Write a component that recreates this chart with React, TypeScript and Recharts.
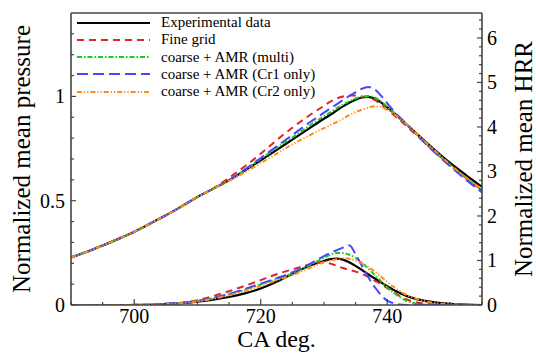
import React from 'react';
import { LineChart, Line, XAxis, YAxis, Legend, Label, ReferenceLine } from 'recharts';

const CA = [690, 692.5, 695, 697.5, 700, 702.5, 705, 707.5, 710, 712.5, 715, 717.5, 720, 722.5, 725, 727.5, 730, 731, 732, 733, 734, 735, 736, 737, 738, 739, 740, 741, 742, 743, 744, 745, 747.5, 750, 752.5, 755];

const pExp = [0.228, 0.255, 0.285, 0.317, 0.351, 0.39, 0.43, 0.473, 0.518, 0.558, 0.598, 0.645, 0.694, 0.743, 0.793, 0.843, 0.893, 0.912, 0.932, 0.952, 0.97, 0.984, 0.995, 0.998, 0.99, 0.972, 0.948, 0.922, 0.895, 0.868, 0.84, 0.812, 0.744, 0.68, 0.622, 0.567];
const pFine = [0.228, 0.255, 0.285, 0.317, 0.351, 0.39, 0.43, 0.473, 0.518, 0.558, 0.61, 0.665, 0.725, 0.79, 0.85, 0.905, 0.955, 0.975, 0.99, 1.0, 1.005, 1.005, 1.0, 0.995, 0.983, 0.962, 0.937, 0.912, 0.886, 0.86, 0.832, 0.805, 0.735, 0.668, 0.607, 0.55];
const pMulti = [0.228, 0.255, 0.285, 0.317, 0.351, 0.39, 0.43, 0.473, 0.518, 0.558, 0.598, 0.647, 0.7, 0.752, 0.803, 0.855, 0.905, 0.924, 0.943, 0.96, 0.976, 0.99, 0.999, 1.002, 0.995, 0.976, 0.951, 0.924, 0.896, 0.867, 0.838, 0.809, 0.738, 0.67, 0.608, 0.55];
const pCr1 = [0.228, 0.255, 0.285, 0.317, 0.351, 0.39, 0.43, 0.473, 0.518, 0.558, 0.598, 0.65, 0.705, 0.76, 0.815, 0.87, 0.922, 0.942, 0.962, 0.982, 1.002, 1.02, 1.037, 1.045, 1.035, 1.005, 0.968, 0.932, 0.9, 0.868, 0.836, 0.805, 0.732, 0.664, 0.6, 0.54];
const pCr2 = [0.228, 0.255, 0.285, 0.317, 0.351, 0.39, 0.43, 0.473, 0.518, 0.558, 0.595, 0.636, 0.68, 0.725, 0.77, 0.81, 0.848, 0.862, 0.877, 0.893, 0.91, 0.925, 0.936, 0.946, 0.953, 0.95, 0.937, 0.917, 0.894, 0.868, 0.84, 0.812, 0.741, 0.673, 0.611, 0.553];

const hExp = [0, 0, 0, 0, 0, 0.005, 0.02, 0.04, 0.075, 0.12, 0.18, 0.26, 0.37, 0.52, 0.7, 0.87, 0.99, 1.03, 1.04, 1.02, 0.96, 0.88, 0.79, 0.69, 0.6, 0.51, 0.42, 0.34, 0.27, 0.21, 0.16, 0.12, 0.06, 0.025, 0.008, 0];
const hFine = [0, 0, 0, 0, 0.005, 0.012, 0.025, 0.05, 0.11, 0.2, 0.31, 0.43, 0.56, 0.69, 0.8, 0.9, 0.96, 0.93, 0.88, 0.83, 0.79, 0.75, 0.7, 0.63, 0.55, 0.47, 0.38, 0.29, 0.2, 0.13, 0.08, 0.05, 0.01, 0, 0, 0];
const hMulti = [0, 0, 0, 0, 0.003, 0.01, 0.025, 0.05, 0.09, 0.15, 0.24, 0.34, 0.46, 0.58, 0.71, 0.88, 1.06, 1.13, 1.17, 1.17, 1.13, 1.06, 0.95, 0.82, 0.68, 0.54, 0.4, 0.28, 0.18, 0.1, 0.05, 0.02, 0, 0, 0, 0];
const hCr1 = [0, 0, 0, 0, 0.003, 0.01, 0.025, 0.05, 0.09, 0.16, 0.25, 0.36, 0.48, 0.6, 0.73, 0.9, 1.1, 1.17, 1.23, 1.29, 1.34, 1.14, 0.88, 0.63, 0.41, 0.23, 0.1, 0.04, 0.01, 0, 0, 0, 0, 0, 0, 0];
const hCr2 = [0, 0, 0, 0, 0.002, 0.008, 0.02, 0.04, 0.08, 0.14, 0.22, 0.32, 0.43, 0.55, 0.67, 0.82, 0.96, 1.0, 1.03, 1.05, 1.04, 1.0, 0.94, 0.86, 0.76, 0.64, 0.52, 0.41, 0.31, 0.23, 0.17, 0.12, 0.05, 0.02, 0.005, 0];

const SERIES_NAMES = ['Experimental data', 'Fine grid', 'coarse + AMR (multi)', 'coarse + AMR (Cr1 only)', 'coarse + AMR (Cr2 only)'];

const X_TICKS = [690, 695, 700, 705, 710, 715, 720, 725, 730, 735, 740, 745, 750, 755];
const X_MAJOR = [700, 720, 740];
const P_TICKS = [0, 0.1, 0.2, 0.3, 0.4, 0.5, 0.6, 0.7, 0.8, 0.9, 1, 1.1, 1.2, 1.3];
const P_MAJOR = [0, 0.5, 1];
const H_TICKS = [0, 0.2, 0.4, 0.6, 0.8, 1, 1.2, 1.4, 1.6, 1.8, 2, 2.2, 2.4, 2.6, 2.8, 3, 3.2, 3.4, 3.6, 3.8, 4, 4.2, 4.4, 4.6, 4.8, 5, 5.2, 5.4, 5.6, 5.8, 6, 6.2, 6.4];
const H_MAJOR = [0, 1, 2, 3, 4, 5, 6];

const data = CA.map((ca, i) => ({
  ca,
  pExp: pExp[i], pFine: pFine[i], pMulti: pMulti[i], pCr1: pCr1[i], pCr2: pCr2[i],
  hExp: hExp[i], hFine: hFine[i], hMulti: hMulti[i], hCr1: hCr1[i], hCr2: hCr2[i],
}));

const FONT = "'Liberation Serif', 'DejaVu Serif', Times, serif";
const AXIS_COLOR = '#444';

const STYLES = [
  { color: '#000000', dash: undefined as string | undefined, width: 2.2 },
  { color: '#e02424', dash: '7 5', width: 2 },
  { color: '#1ccc1c', dash: '5 2 1.5 2', width: 2 },
  { color: '#4646ff', dash: '11 5', width: 2 },
  { color: '#ff8a1c', dash: '5 2 1.2 2 1.2 2', width: 2 },
];

const isIn = (arr: number[], v: number) => arr.some((m) => Math.abs(m - v) < 1e-6);

const txtStyle = { fontFamily: FONT } as React.CSSProperties;

const LeftTick = (props: any) => {
  const { x, y, payload } = props;
  const v = payload.value;
  const major = isIn(P_MAJOR, v);
  return (
    <g>
      <line x1={x} x2={x + (major ? 5 : 3)} y1={y} y2={y} stroke={AXIS_COLOR} strokeWidth={1.2} />
      {major && (
        <text x={x - 6} y={y} dy="0.35em" textAnchor="end" fontSize={20} style={txtStyle} fill="#000">
          {String(v)}
        </text>
      )}
    </g>
  );
};

const RightTick = (props: any) => {
  const { x, y, payload } = props;
  const v = payload.value;
  const major = isIn(H_MAJOR, v);
  return (
    <g>
      <line x1={x} x2={x - (major ? 5 : 3)} y1={y} y2={y} stroke={AXIS_COLOR} strokeWidth={1.2} />
      {major && (
        <text x={x + 5} y={y} dy="0.35em" textAnchor="start" fontSize={20} style={txtStyle} fill="#000">
          {String(v)}
        </text>
      )}
    </g>
  );
};

const BottomTick = (props: any) => {
  const { x, y, payload } = props;
  const v = payload.value;
  const major = isIn(X_MAJOR, v);
  return (
    <g>
      <line x1={x} x2={x} y1={y} y2={y - (major ? 6 : 3)} stroke={AXIS_COLOR} strokeWidth={1.2} />
      {major && (
        <text x={x} y={y + 18} textAnchor="middle" fontSize={20} style={txtStyle} fill="#000">
          {String(v)}
        </text>
      )}
    </g>
  );
};

const renderLegend = () => (
  <div style={{ fontFamily: FONT, fontSize: 15, color: '#000' }}>
    {SERIES_NAMES.map((name, i) => (
      <div key={name} style={{ display: 'flex', alignItems: 'center', height: 17.25, whiteSpace: 'nowrap' }}>
        <svg width={77} height={10} style={{ display: 'block' }}>
          <line x1={2} x2={75} y1={5} y2={5} stroke={STYLES[i].color} strokeWidth={STYLES[i].width} strokeDasharray={STYLES[i].dash} />
        </svg>
        <span style={{ marginLeft: 9, lineHeight: '17px' }}>{name}</span>
      </div>
    ))}
  </div>
);

export default function App() {
  const pKeys = ['pExp', 'pFine', 'pMulti', 'pCr1', 'pCr2'];
  const hKeys = ['hExp', 'hFine', 'hMulti', 'hCr1', 'hCr2'];
  return (
    <div style={{ position: 'absolute', left: 0, top: 0, fontFamily: FONT }}>
      <LineChart width={536} height={353} data={data} margin={{ top: 13, right: 0, bottom: 0, left: 1 }}>
        <XAxis
          dataKey="ca"
          type="number"
          domain={[690, 755]}
          ticks={X_TICKS}
          interval={0}
          allowDataOverflow
          height={48}
          tickSize={0}
          tickMargin={0}
          tickLine={false}
          axisLine={{ stroke: AXIS_COLOR, strokeWidth: 1.6 }}
          tick={<BottomTick />}
        >
          <Label
            content={(p: any) => {
              const vb = p.viewBox;
              return (
                <text x={vb.x + vb.width / 2} y={vb.y + 42} textAnchor="middle" fontSize={24} style={txtStyle} fill="#000">
                  CA deg.
                </text>
              );
            }}
          />
        </XAxis>
        <YAxis
          yAxisId="p"
          orientation="left"
          domain={[0, 1.4]}
          ticks={P_TICKS}
          interval={0}
          allowDataOverflow
          width={70}
          tickSize={0}
          tickMargin={0}
          tickLine={false}
          axisLine={{ stroke: AXIS_COLOR, strokeWidth: 1.6 }}
          tick={<LeftTick />}
        >
          <Label
            content={(p: any) => {
              const vb = p.viewBox;
              const cx = vb.x + 29;
              const cy = vb.y + vb.height / 2;
              return (
                <text x={cx} y={cy} transform={`rotate(-90 ${cx} ${cy})`} textAnchor="middle" fontSize={25} style={txtStyle} fill="#000">
                  Normalized mean pressure
                </text>
              );
            }}
          />
        </YAxis>
        <YAxis
          yAxisId="h"
          orientation="right"
          domain={[0, 6.56]}
          ticks={H_TICKS}
          interval={0}
          allowDataOverflow
          width={54}
          tickSize={0}
          tickMargin={0}
          tickLine={false}
          axisLine={{ stroke: AXIS_COLOR, strokeWidth: 1.6 }}
          tick={<RightTick />}
        >
          <Label
            content={(p: any) => {
              const vb = p.viewBox;
              const cx = vb.x + 50;
              const cy = vb.y + vb.height / 2;
              return (
                <text x={cx} y={cy} transform={`rotate(-90 ${cx} ${cy})`} textAnchor="middle" fontSize={25} style={txtStyle} fill="#000">
                  Normalized mean HRR
                </text>
              );
            }}
          />
        </YAxis>
        <ReferenceLine yAxisId="p" y={1.4} stroke={AXIS_COLOR} strokeWidth={1.6} ifOverflow="visible" />
        <Legend
          layout="vertical"
          align="center"
          verticalAlign="middle"
          content={renderLegend}
          wrapperStyle={{ left: 75, top: 14, width: 280 }}
        />
        {pKeys.map((k, i) => (
          <Line
            key={k}
            yAxisId="p"
            dataKey={k}
            type="monotone"
            stroke={STYLES[i].color}
            strokeWidth={STYLES[i].width}
            strokeDasharray={STYLES[i].dash}
            dot={false}
            activeDot={false}
            isAnimationActive={false}
          />
        ))}
        {hKeys.map((k, i) => (
          <Line
            key={k}
            yAxisId="h"
            dataKey={k}
            type="monotone"
            stroke={STYLES[i].color}
            strokeWidth={STYLES[i].width}
            strokeDasharray={STYLES[i].dash}
            dot={false}
            activeDot={false}
            isAnimationActive={false}
          />
        ))}
      </LineChart>
    </div>
  );
}
